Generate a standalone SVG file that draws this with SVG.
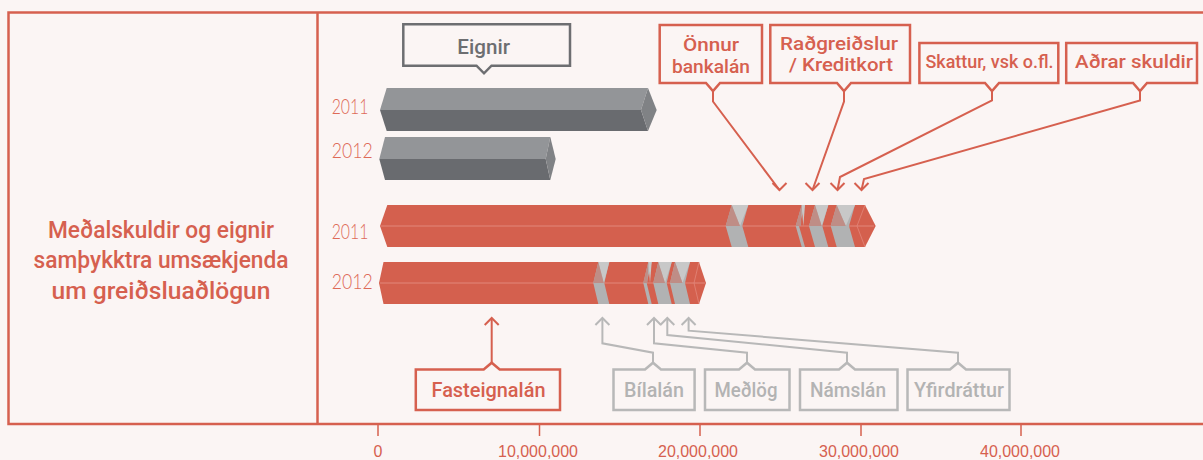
<svg xmlns="http://www.w3.org/2000/svg" width="1203" height="460" viewBox="0 0 1203 460">
<style>
.t{font-family:"Roboto","Liberation Sans",sans-serif;font-weight:500;text-anchor:middle}
.r{fill:#D6604F}
.g{fill:#B3B3B3}
.d{fill:#6D6E71}
.yr{font-family:"Lato","Liberation Sans",sans-serif;font-weight:300;font-size:21px;fill:#DE6A58}
.ax{font-family:"Liberation Sans Narrow","Liberation Sans",sans-serif;font-size:16px;fill:#D6604F;text-anchor:middle}
.box{fill:#FBF5F4;stroke-width:2.5;stroke-linejoin:miter}
.rb{stroke:#D6604F}
.gb{stroke:#B8B8B8}
.db{stroke:#6D6E71}
.cr{fill:none;stroke:#D6604F;stroke-width:2}
.cg{fill:none;stroke:#B8B8B8;stroke-width:2}
.red{fill:#D4604E}
.gm{fill:#B1B2B3}
.gl{fill:#C8C8C8}
.gp{fill:#BF8D86}
</style>
<defs>
<marker id="ad" markerUnits="userSpaceOnUse" orient="90" refX="0" refY="0" markerWidth="20" markerHeight="20" overflow="visible"><path d="M-7,-7 L0,0 L-7,7" fill="none" stroke="#D6604F" stroke-width="2"/></marker>
<marker id="aur" markerUnits="userSpaceOnUse" orient="-90" refX="0" refY="0" markerWidth="20" markerHeight="20" overflow="visible"><path d="M-7,-7 L0,0 L-7,7" fill="none" stroke="#D6604F" stroke-width="2"/></marker>
<marker id="aug" markerUnits="userSpaceOnUse" orient="-90" refX="0" refY="0" markerWidth="20" markerHeight="20" overflow="visible"><path d="M-7,-7 L0,0 L-7,7" fill="none" stroke="#B8B8B8" stroke-width="2"/></marker>
</defs>
<rect x="0" y="0" width="1203" height="460" fill="#FBF5F4"/>
<g id="frame" fill="none" stroke="#D6604F" stroke-width="2.5">
<rect x="8.5" y="12.5" width="1210" height="411.5"/>
<line x1="317.5" y1="12.5" x2="317.5" y2="424"/>
</g>
<g id="title" class="t r" font-size="23">
<text x="161" y="237.7" textLength="226" lengthAdjust="spacingAndGlyphs">Meðalskuldir og eignir</text>
<text x="161" y="268.3" textLength="255" lengthAdjust="spacingAndGlyphs">samþykktra umsækjenda</text>
<text x="161" y="299" textLength="219" lengthAdjust="spacingAndGlyphs">um greiðsluaðlögun</text>
</g>
<g id="axis">
<g stroke="#D6604F" stroke-width="1.5">
<line x1="378" y1="424" x2="378" y2="436"/>
<line x1="539.5" y1="424" x2="539.5" y2="436"/>
<line x1="700" y1="424" x2="700" y2="436"/>
<line x1="861" y1="424" x2="861" y2="436"/>
<line x1="1021" y1="424" x2="1021" y2="436"/>
</g>
<text class="ax" x="378" y="457">0</text>
<text class="ax" x="538" y="457" textLength="80" lengthAdjust="spacingAndGlyphs">10,000,000</text>
<text class="ax" x="698" y="457" textLength="80" lengthAdjust="spacingAndGlyphs">20,000,000</text>
<text class="ax" x="859" y="457" textLength="80" lengthAdjust="spacingAndGlyphs">30,000,000</text>
<text class="ax" x="1020" y="457" textLength="80" lengthAdjust="spacingAndGlyphs">40,000,000</text>
</g>
<g id="years">
<text class="yr" x="331.7" y="114.3" textLength="36.7" lengthAdjust="spacingAndGlyphs">2011</text>
<text class="yr" x="331.7" y="158.3" textLength="41" lengthAdjust="spacingAndGlyphs">2012</text>
<text class="yr" x="331.7" y="239.3" textLength="36.7" lengthAdjust="spacingAndGlyphs">2011</text>
<text class="yr" x="331.7" y="289.3" textLength="41" lengthAdjust="spacingAndGlyphs">2012</text>
</g>
<g id="bar-eignir-2011">
<polygon points="386.7,88 648,88 641,110 380,110" fill="#939598"/>
<polygon points="380,110 641,110 648,131 386.7,131" fill="#696B6F"/>
<polygon points="648,88 656.7,110 648,131 641,110" fill="#808285"/>
</g>
<g id="bar-eignir-2012">
<polygon points="385,137 550.3,137 545.7,159 379.3,159" fill="#939598"/>
<polygon points="379.3,159 545.7,159 550.3,180 385,180" fill="#696B6F"/>
<polygon points="550.3,137 555.7,159 550.3,180 545.7,159" fill="#808285"/>
</g>
<g id="bar-skuldir-2011">
<polygon class="red" points="387.3,205 865,205 875.7,226 865,247 387.3,247 380,226"/>
<line x1="381" y1="226" x2="874" y2="226" stroke="#E2877A" stroke-width="1"/>
<polygon class="gm" points="731.7,205 748.3,205 742.3,226 748.3,247 731.7,247 725.7,226"/>
<polygon class="gl" points="731.7,205 748.3,205 740,226"/>
<polygon class="gp" points="731.7,205 740,226 725.7,226"/>
<polygon class="gm" points="801.7,205 805,205 799,226 805,247 801.7,247 795.7,226"/>
<polygon class="gl" points="801.7,205 805,205 803.3,226"/>
<polygon class="gp" points="801.7,205 801,226 795.7,226"/>
<polygon class="gm" points="815,205 828.3,205 822.3,226 828.3,247 815,247 809,226"/>
<polygon class="gl" points="815,205 828.3,205 821.7,226"/>
<polygon class="gp" points="815,205 821.7,226 809,226"/>
<polygon class="gm" points="836.7,205 855,205 849,226 855,247 836.7,247 830.7,226"/>
<polygon class="gl" points="836.7,205 855,205 845.8,226"/>
<polygon class="gp" points="836.7,205 845.8,226 830.7,226"/>
<polyline points="865,205 857,226 865,247" fill="none" stroke="#E2877A" stroke-width="0.8"/>
</g>
<g id="bar-skuldir-2012">
<polygon class="red" points="383.5,262 699,262 706,283 699,304 383.5,304 379,283"/>
<line x1="380" y1="283" x2="705" y2="283" stroke="#E2877A" stroke-width="1"/>
<polygon class="gm" points="598.3,262 609.3,262 604.3,283 609.3,304 598.3,304 593.3,283"/>
<polygon class="gl" points="598.3,262 609.3,262 603.8,283"/>
<polygon class="gp" points="598.3,262 603.8,283 593.3,283"/>
<polygon class="gm" points="648.3,262 651.7,262 646.7,283 651.7,304 648.3,304 643.3,283"/>
<polygon class="gl" points="648.3,262 651.7,262 650,283"/>
<polygon class="gp" points="648.3,262 647.5,283 643.3,283"/>
<polygon class="gm" points="658.3,262 671.7,262 666.7,283 671.7,304 658.3,304 653.3,283"/>
<polygon class="gl" points="658.3,262 671.7,262 665,283"/>
<polygon class="gp" points="658.3,262 665,283 653.3,283"/>
<polygon class="gm" points="675,262 690,262 685,283 690,304 675,304 670,283"/>
<polygon class="gl" points="675,262 690,262 682.5,283"/>
<polygon class="gp" points="675,262 682.5,283 670,283"/>
<polyline points="699,262 694,283 699,304" fill="none" stroke="#E2877A" stroke-width="0.8"/>
</g>
<g id="connectors">
<path class="cr" d="M713,91 V101.5 L779.5,190" marker-end="url(#ad)"/>
<path class="cr" d="M844,91 V101.5 L812.5,190" marker-end="url(#ad)"/>
<path class="cr" d="M992,91 V100.5 L840,177 L837.5,190" marker-end="url(#ad)"/>
<path class="cr" d="M1140,91 V100.5 L864,179 L861.5,190" marker-end="url(#ad)"/>
<path class="cr" d="M491.7,318 V363" marker-start="url(#aur)"/>
<path class="cg" d="M602.4,318 V343.3 L653,352.7 V363" marker-start="url(#aug)"/>
<path class="cg" d="M654,318 V343.3 L747,352.7 V363" marker-start="url(#aug)"/>
<path class="cg" d="M667.3,318 V335 L847,352.7 V363" marker-start="url(#aug)"/>
<path class="cg" d="M688.6,318 V330.7 L958,352.7 V363" marker-start="url(#aug)"/>
</g>
<g id="node-eignir">
<path class="box db" d="M403.3,24.3 H570 V65.7 H491.5 L484,73.3 L476.5,65.7 H403.3 Z"/>
<text class="t d" x="483.7" y="54" font-size="20" textLength="52.7" lengthAdjust="spacingAndGlyphs">Eignir</text>
</g>
<g id="node-onnur">
<path class="box rb" d="M659.7,25 H762 V83 H720 L713,91 L706,83 H659.7 Z"/>
<text class="t r" x="711" y="51" font-size="19" textLength="56" lengthAdjust="spacingAndGlyphs">Önnur</text>
<text class="t r" x="711" y="73" font-size="19" textLength="78" lengthAdjust="spacingAndGlyphs">bankalán</text>
</g>
<g id="node-radgreidslur">
<path class="box rb" d="M770.3,25 H910 V83 H851 L844,91 L837,83 H770.3 Z"/>
<text class="t r" x="839" y="49.5" font-size="19" textLength="118" lengthAdjust="spacingAndGlyphs">Raðgreiðslur</text>
<text class="t r" x="841" y="71" font-size="19" textLength="104" lengthAdjust="spacingAndGlyphs">/ Kreditkort</text>
</g>
<g id="node-skattur">
<path class="box rb" d="M919.4,43 H1058.3 V83 H999 L992,91 L985,83 H919.4 Z"/>
<text class="t r" x="989.5" y="68.3" font-size="19" textLength="128" lengthAdjust="spacingAndGlyphs">Skattur, vsk o.fl.</text>
</g>
<g id="node-adrar">
<path class="box rb" d="M1066.2,43 H1197 V83 H1147 L1140,91 L1133,83 H1066.2 Z"/>
<text class="t r" x="1134" y="68.3" font-size="19" textLength="118" lengthAdjust="spacingAndGlyphs">Aðrar skuldir</text>
</g>
<g id="node-fasteignalan">
<path class="box rb" d="M415.8,369.5 H483.7 L491.7,362.7 L499.7,369.5 H560 V410 H415.8 Z"/>
<text class="t r" x="488.5" y="397.3" font-size="20" textLength="114" lengthAdjust="spacingAndGlyphs">Fasteignalán</text>
</g>
<g id="node-bilalan">
<path class="box gb" d="M613.5,369.5 H645 L653,362.7 L661,369.5 H694.6 V410 H613.5 Z"/>
<text class="t g" x="654" y="397" font-size="20" textLength="60" lengthAdjust="spacingAndGlyphs">Bílalán</text>
</g>
<g id="node-medlog">
<path class="box gb" d="M705,369.5 H739 L747,362.7 L755,369.5 H789.5 V410 H705 Z"/>
<text class="t g" x="746" y="397" font-size="20" textLength="63" lengthAdjust="spacingAndGlyphs">Meðlög</text>
</g>
<g id="node-namslan">
<path class="box gb" d="M800,369.5 H839 L847,362.7 L855,369.5 H897.5 V410 H800 Z"/>
<text class="t g" x="848" y="397" font-size="20" textLength="76" lengthAdjust="spacingAndGlyphs">Námslán</text>
</g>
<g id="node-yfirdrattur">
<path class="box gb" d="M907.5,369.5 H950 L958,362.7 L966,369.5 H1009.5 V410 H907.5 Z"/>
<text class="t g" x="959" y="397" font-size="20" textLength="90" lengthAdjust="spacingAndGlyphs">Yfirdráttur</text>
</g>
</svg>
